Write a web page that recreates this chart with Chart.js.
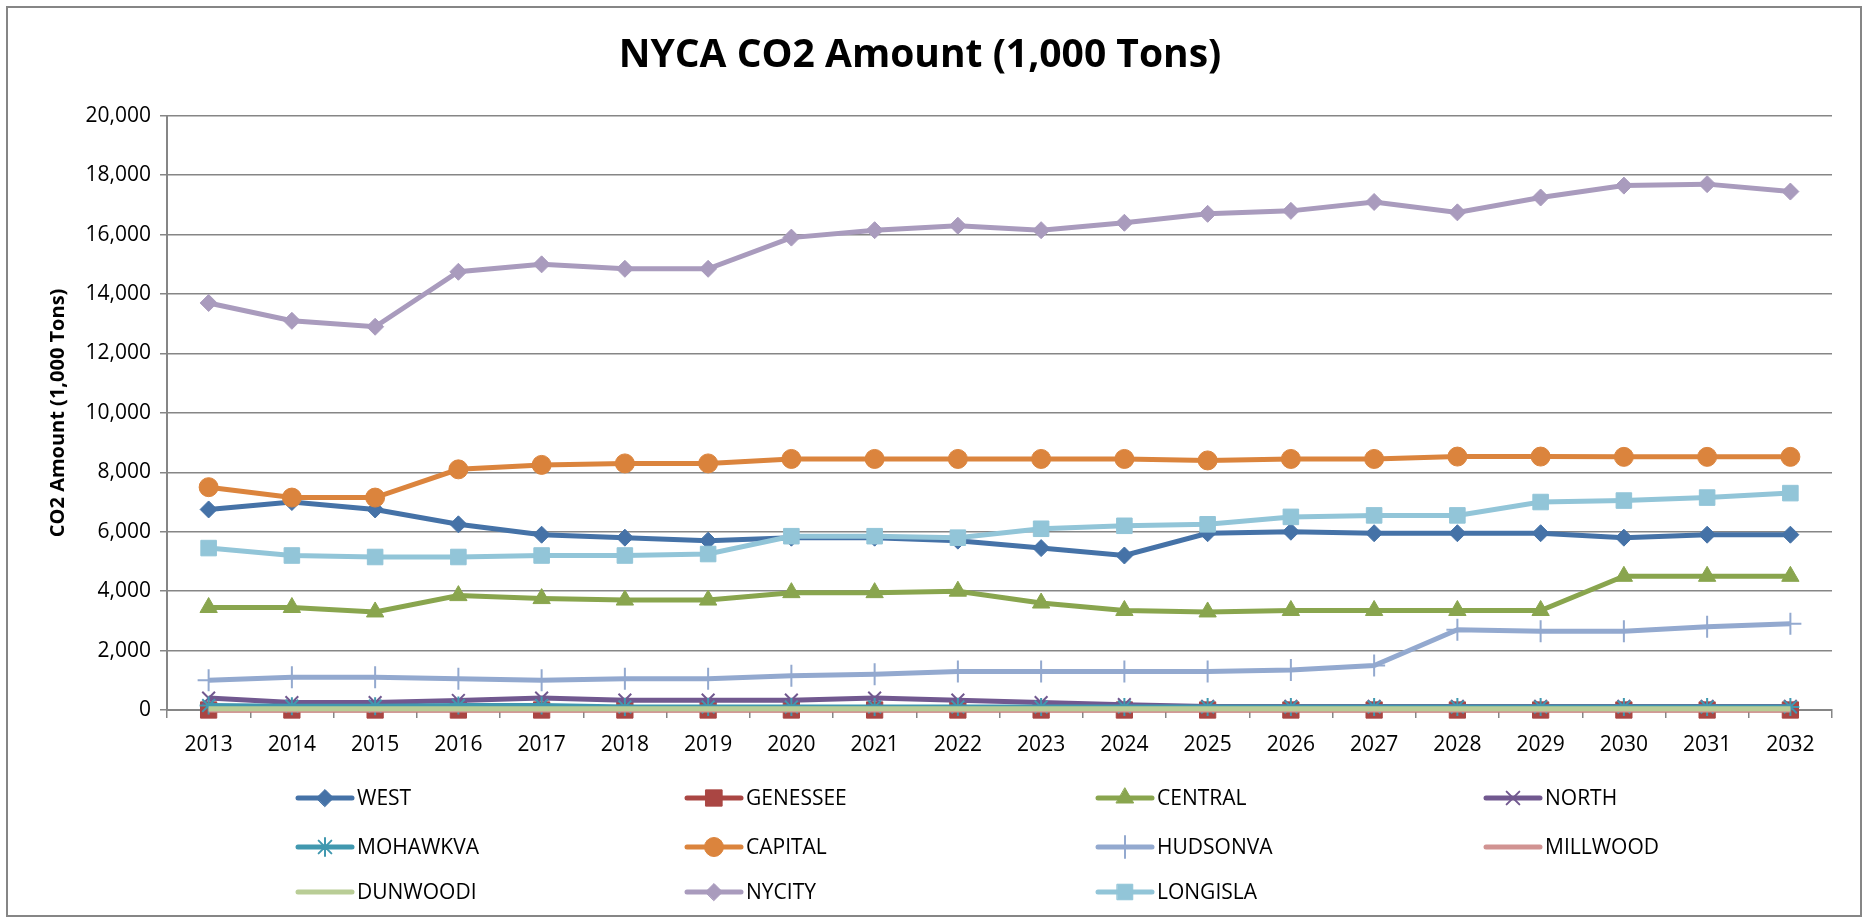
<!DOCTYPE html>
<html>
<head>
<meta charset="utf-8">
<script src="https://cdn.jsdelivr.net/npm/chart.js@4"></script>
<style>
  html, body { margin: 0; padding: 0; background: #fff; }
  #wrap { position: absolute; left: 6px; top: 6px; width: 1852px; height: 907px; border: 2px solid #868686; }
  canvas { display: block; }
</style>
</head>
<body>
<div id="wrap"><canvas id="chart" width="1852" height="907"></canvas></div>
<script>
const years = ['2013','2014','2015','2016','2017','2018','2019','2020','2021','2022',
               '2023','2024','2025','2026','2027','2028','2029','2030','2031','2032'];

const west     = [6750,7000,6750,6250,5900,5800,5700,5800,5800,5700,5450,5200,5950,6000,5950,5950,5950,5800,5900,5900];
const genessee = [0,0,0,0,0,0,0,0,0,0,0,0,0,0,0,0,0,0,0,0];
const central  = [3450,3450,3300,3850,3750,3700,3700,3950,3950,4000,3600,3350,3300,3350,3350,3350,3350,4500,4500,4500];
const north    = [400,250,250,320,400,330,330,330,400,330,250,180,120,120,120,120,120,120,120,120];
const mohawkva = [150,130,130,150,150,100,100,100,100,100,100,100,100,100,100,100,100,100,100,100];
const capital  = [7500,7150,7150,8100,8250,8300,8300,8450,8450,8450,8450,8450,8400,8450,8450,8530,8530,8520,8520,8520];
const hudsonva = [1000,1100,1100,1050,1000,1050,1050,1150,1200,1300,1300,1300,1300,1350,1500,2700,2650,2650,2800,2900];
const millwood = [0,0,0,0,0,0,0,0,0,0,0,0,0,0,0,0,0,0,0,0];
const dunwoodi = [40,40,40,40,40,40,40,40,40,40,40,40,40,40,40,40,40,40,40,40];
const nycity   = [13700,13100,12900,14750,15000,14850,14850,15900,16150,16300,16150,16400,16700,16800,17100,16750,17250,17650,17700,17450];
const longisla = [5450,5200,5150,5150,5200,5200,5250,5850,5850,5800,6100,6200,6250,6500,6550,6550,7000,7050,7150,7300];

const seriesNames = ['WEST','GENESSEE','CENTRAL','NORTH','MOHAWKVA','CAPITAL','HUDSONVA','MILLWOOD','DUNWOODI','NYCITY','LONGISLA'];
const seriesData = [west, genessee, central, north, mohawkva, capital, hudsonva, millwood, dunwoodi, nycity, longisla];
const colors = ['#4572A7','#AA4643','#89A54E','#71588F','#4198AF','#DB843D','#93A9CF','#D19392','#B9CD96','#A99BBD','#92C5D8'];
const markers = ['rectRot','rect','triangle','crossRot','star','circle','cross',false,false,'rectRot','rect'];
const markerSize = [8.5,11.5,10,9,9,9.5,11,0,0,8.5,11];

const FONT = "'Open Sans', 'Liberation Sans', sans-serif";

const datasets = seriesNames.map((name, i) => ({
    label: name,
    data: seriesData[i],
    borderColor: colors[i],
    backgroundColor: colors[i],
    borderWidth: 5,
    pointStyle: markers[i],
    pointRadius: markerSize[i],
    pointHoverRadius: markerSize[i],
    pointBorderWidth: (markers[i] === 'cross' || markers[i] === 'crossRot' || markers[i] === 'star') ? 2 : 1,
    pointBorderColor: colors[i],
    pointBackgroundColor: colors[i],
    tension: 0,
    clip: false,
    order: -i
}));

// legend laid out in 4 columns like the original
const legendGrid = {
    id: 'legendGrid',
    afterDraw(chart) {
        const ctx = chart.ctx;
        const lineX = [290, 679, 1090, 1478];
        const rowY = [790, 839, 884];
        ctx.save();
        chart.data.datasets.forEach((ds, i) => {
            const x = lineX[i % 4];
            const y = rowY[Math.floor(i / 4)];
            ctx.strokeStyle = ds.borderColor;
            ctx.lineWidth = 5;
            ctx.lineCap = 'round';
            ctx.beginPath();
            ctx.moveTo(x, y);
            ctx.lineTo(x + 54, y);
            ctx.stroke();
            if (ds.pointStyle && Chart.helpers && Chart.helpers.drawPoint) {
                ctx.fillStyle = ds.pointBackgroundColor;
                ctx.strokeStyle = ds.pointBorderColor;
                ctx.lineWidth = ds.pointBorderWidth;
                Chart.helpers.drawPoint(ctx, {pointStyle: ds.pointStyle, radius: ds.pointRadius, rotation: 0, borderWidth: ds.pointBorderWidth}, x + 27, y);
            }
            ctx.fillStyle = '#000';
            ctx.font = '21px ' + FONT;
            ctx.textBaseline = 'middle';
            ctx.textAlign = 'left';
            ctx.fillText(ds.label, x + 59, y + 1);
        });
        ctx.restore();
    }
};

new Chart(document.getElementById('chart'), {
    type: 'line',
    data: { labels: years, datasets: datasets },
    plugins: [legendGrid],
    options: {
        responsive: false,
        animation: false,
        layout: { padding: { left: 0, right: 28, top: 0, bottom: 155 } },
        plugins: {
            legend: { display: false },
            tooltip: { enabled: false },
            title: {
                display: true,
                text: 'NYCA CO2 Amount (1,000 Tons)',
                color: '#000',
                font: { family: FONT, size: 39, weight: 'bold' },
                padding: { top: 24, bottom: 37 }
            }
        },
        scales: {
            x: {
                offset: true,
                grid: { offset: true, drawOnChartArea: false, drawTicks: true, tickLength: 8, color: '#868686', lineWidth: 1.5 },
                border: { color: '#868686', width: 2 },
                ticks: { color: '#000', font: { family: FONT, size: 21 }, padding: 14, maxRotation: 0, autoSkip: false },
                afterFit(scale) { scale.height = 50; }
            },
            y: {
                min: 0,
                max: 20000,
                grid: { color: '#868686', lineWidth: 1.5, tickLength: 7 },
                border: { color: '#868686', width: 2 },
                ticks: {
                    stepSize: 2000,
                    color: '#000',
                    font: { family: FONT, size: 21 },
                    padding: 9,
                    callback: v => v.toLocaleString('en-US')
                },
                title: {
                    display: true,
                    text: 'CO2 Amount (1,000 Tons)',
                    color: '#000',
                    font: { family: FONT, size: 20, weight: 'bold' },
                    padding: { top: 38, bottom: 0 }
                },
                afterFit(scale) { scale.width = 159; }
            }
        }
    }
});
</script>
</body>
</html>
